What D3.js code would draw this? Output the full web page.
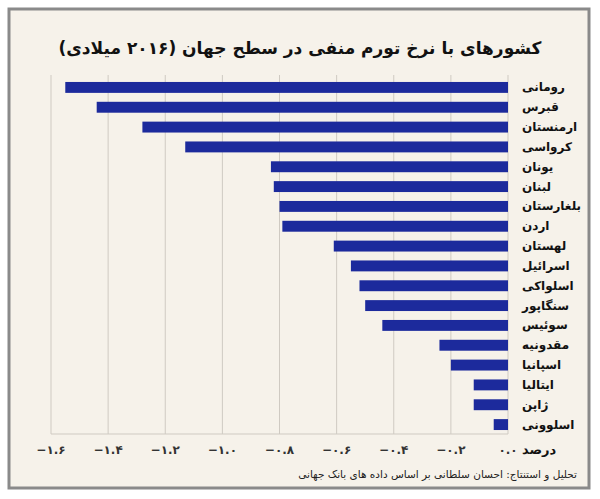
<!DOCTYPE html>
<html><head><meta charset="utf-8">
<script src="https://cdn.jsdelivr.net/npm/d3@7"></script>
<style>body{margin:0;background:#fff}</style>
</head><body>
<div id="chart"></div>
<script>
const countries = ["رومانی","قبرس","ارمنستان","کرواسی","یونان","لبنان","بلغارستان","اردن","لهستان","اسرائیل","اسلواکی","سنگاپور","سوئیس","مقدونیه","اسپانیا","ایتالیا","ژاپن","اسلوونی"];
const values = [-1.55,-1.44,-1.28,-1.13,-0.83,-0.82,-0.80,-0.79,-0.61,-0.55,-0.52,-0.50,-0.44,-0.24,-0.20,-0.12,-0.12,-0.05];
const tickValues = [-1.6,-1.4,-1.2,-1.0,-0.8,-0.6,-0.4,-0.2,0];
const tickLabels = ["−۱.۶","−۱.۴","−۱.۲","−۱.۰","−۰.۸","−۰.۶","−۰.۴","−۰.۲","۰.۰"];

const W = 600, H = 499;
const svg = d3.select("#chart").append("svg").attr("width", W).attr("height", H);
svg.append("rect").attr("width", W).attr("height", H).attr("fill", "#fff");
svg.append("rect").attr("x", 9).attr("y", 9).attr("width", 580).attr("height", 479)
  .attr("fill", "#f6f2ea").attr("stroke", "#8a8a8a").attr("stroke-width", 3);

const font = "'DejaVu Sans', sans-serif";
svg.append("text").attr("x", 300).attr("y", 54).attr("text-anchor", "middle")
  .attr("direction", "rtl").attr("font-family", font).attr("font-weight", "bold")
  .attr("font-size", 17).attr("fill", "#111")
  .text("کشورهای با نرخ تورم منفی در سطح جهان (۲۰۱۶ میلادی)");

const x = d3.scaleLinear().domain([-1.6, 0]).range([51, 508]);
const y = d3.scaleBand().domain(countries).range([78, 434]).paddingInner(0.45).paddingOuter(0.2);

// gridlines
svg.append("g").selectAll("line").data(tickValues).join("line")
  .attr("x1", d => x(d)).attr("x2", d => x(d)).attr("y1", 75).attr("y2", 434)
  .attr("stroke", "#cfcac2").attr("stroke-width", 1);
svg.append("line").attr("x1", x(-1.6)).attr("x2", x(0)).attr("y1", 434).attr("y2", 434)
  .attr("stroke", "#cfcac2");

svg.append("g").selectAll("rect").data(values).join("rect")
  .attr("x", d => x(d)).attr("width", d => x(0) - x(d))
  .attr("y", (d, i) => y(countries[i])).attr("height", y.bandwidth())
  .attr("fill", "#1c2a9c");

// rtl: "end" anchors the left edge of the text
svg.append("g").selectAll("text").data(countries).join("text")
  .attr("x", 522).attr("y", d => y(d) + y.bandwidth() / 2 + 4)
  .attr("text-anchor", "end").attr("direction", "rtl")
  .attr("font-family", font).attr("font-weight", "bold").attr("font-size", 12).attr("fill", "#111")
  .text(d => d);

svg.append("g").selectAll("text").data(tickValues).join("text")
  .attr("x", d => x(d)).attr("y", 454).attr("text-anchor", "middle")
  .attr("font-family", font).attr("font-weight", "bold").attr("font-size", 12).attr("fill", "#333")
  .text((d, i) => tickLabels[i]);

svg.append("text").attr("x", 522).attr("y", 454).attr("text-anchor", "end").attr("direction", "rtl")
  .attr("font-family", font).attr("font-weight", "bold").attr("font-size", 13).attr("fill", "#111")
  .text("درصد");

svg.append("text").attr("x", 577).attr("y", 478).attr("text-anchor", "start").attr("direction", "rtl")
  .attr("font-family", font).attr("font-size", 10.5).attr("fill", "#222")
  .text("تحلیل و استنتاج: احسان سلطانی بر اساس داده های بانک جهانی");
</script>
</body></html>
